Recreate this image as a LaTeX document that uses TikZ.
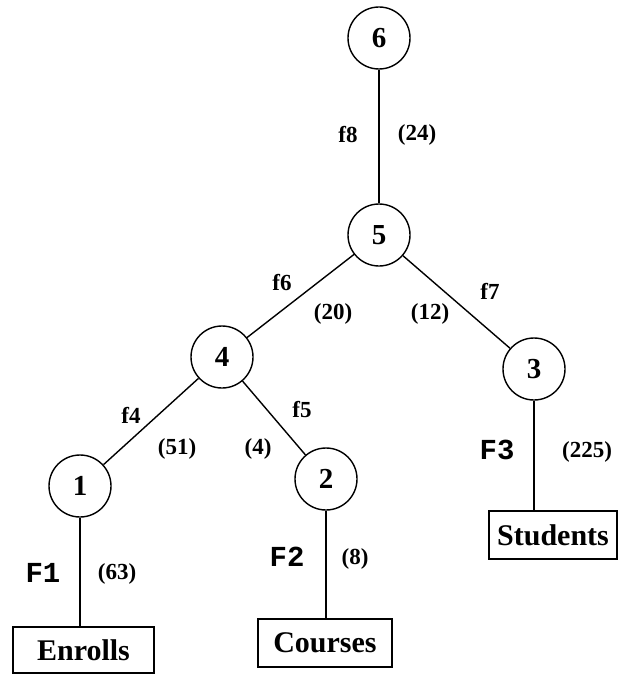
\documentclass[tikz,border=0pt]{standalone}
\usepackage{fontspec}
\setmainfont{Liberation Serif}
\setmonofont{Liberation Mono}
\begin{document}
\begin{tikzpicture}[x=1pt,y=-1pt,
  every node/.style={font=\bfseries},
  num/.style={draw,circle,line width=1.4pt,minimum size=62pt,inner sep=0pt,font=\bfseries\fontsize{29}{29}\selectfont},
  rel/.style={draw,rectangle,line width=1.4pt,inner sep=0pt,font=\bfseries\fontsize{30}{30}\selectfont},
  lab/.style={font=\bfseries\fontsize{23}{23}\selectfont},
  flab/.style={font=\ttfamily\bfseries\fontsize{29}{29}\selectfont},
  edge/.style={line width=1.4pt}]
\useasboundingbox (0,0) rectangle (627,674);
\node[num] (n6) at (379,38) {6};
\node[num] (n5) at (379,235) {5};
\node[num] (n4) at (222,357) {4};
\node[num] (n3) at (534,369) {3};
\node[num] (n1) at (80,486) {1};
\node[num] (n2) at (326,479) {2};
\node[rel,minimum width=141pt,minimum height=46pt] (enr) at (83.5,650) {Enrolls};
\node[rel,minimum width=134pt,minimum height=48pt] (cou) at (325,643) {Courses};
\node[rel,minimum width=128pt,minimum height=48pt] (stu) at (553,535) {Students};
\draw[edge] (n6) -- (n5);
\draw[edge] (n5) -- (n4);
\draw[edge] (n5) -- (n3);
\draw[edge] (n4) -- (n1);
\draw[edge] (n4) -- (n2);
\draw[edge] (n1) -- (n1 |- enr.north);
\draw[edge] (n2) -- (n2 |- cou.north);
\draw[edge] (n3) -- (n3 |- stu.north);
\node[lab] (l8) at (348,135) {f8};
\node[lab] (c8) at (417,135) {(24)};
\node[lab] (l6) at (282,283) {f6};
\node[lab] (c6) at (333,314) {(20)};
\node[lab] (c7) at (430,314) {(12)};
\node[lab] (l7) at (490,291) {f7};
\node[lab] (l4) at (131,415) {f4};
\node[lab] (c4) at (177,449) {(51)};
\node[lab] (c5) at (258,449) {(4)};
\node[lab] (l5) at (302,410) {f5};
\node[flab] (f1) at (43,573) {F1};
\node[lab] (c1) at (117,574) {(63)};
\node[flab] (f2) at (287,557) {F2};
\node[lab] (c2) at (355,559) {(8)};
\node[flab] (f3) at (497,450) {F3};
\node[lab] (c3) at (587,452) {(225)};
\end{tikzpicture}
\end{document}
